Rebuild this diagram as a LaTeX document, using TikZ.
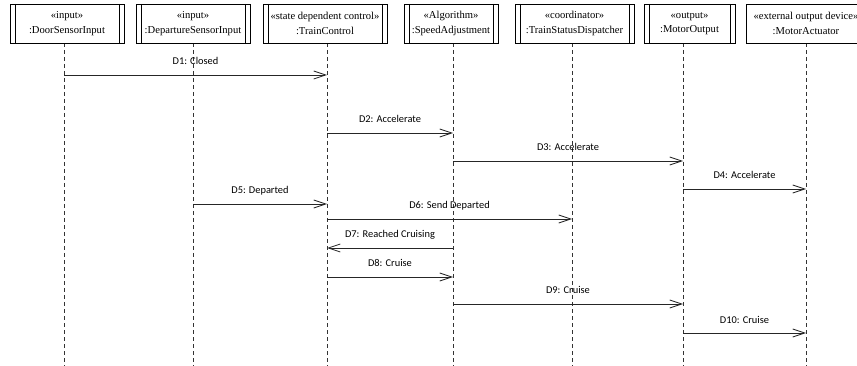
\documentclass[tikz,border=0pt]{standalone}
\usepackage{fontspec}
\setmainfont{Liberation Serif}
\newfontfamily\labelfont{Carlito}
\usetikzlibrary{arrows.meta}

\tikzset{
  objbox/.style={draw=black, line width=0.8pt, fill=white, minimum height=39pt,
    inner sep=0pt, align=center, font=\fontsize{10.6}{14.5}\selectfont},
  activebox/.style={objbox, path picture={
    \draw[line width=0.8pt]
      ([xshift=5pt]path picture bounding box.north west) --
      ([xshift=5pt]path picture bounding box.south west)
      ([xshift=-5pt]path picture bounding box.north east) --
      ([xshift=-5pt]path picture bounding box.south east);}},
  lifeline/.style={draw=black!80, line width=0.8pt, dash pattern=on 4pt off 3pt},
  msg/.style={draw=black!85, line width=0.8pt,
    -{Straight Barb[length=12pt,width=8pt,line width=0.8pt]}},
  msglabel/.style={midway, anchor=base, yshift=10pt, inner sep=0pt,
    font=\labelfont\fontsize{10.4}{12}\selectfont, text=black}
}

\begin{document}
\begin{tikzpicture}[x=1pt, y=-1pt]
  \useasboundingbox (0,0) rectangle (857,366);
  \clip (0,0) rectangle (857,366);

  % lifeline tops and bottoms
  \foreach \n/\x in {1/64, 2/193, 3/327, 4/453, 5/572, 6/683, 7/806} {
    \coordinate (t\n) at (\x,43);
    \coordinate (b\n) at (\x,366);
  }
  \foreach \n in {1,...,7} { \draw[lifeline] (t\n) -- (b\n); }

  % object boxes
  \node[activebox, minimum width=114pt] (door)  at (67,23.5)    {«input»\\:DoorSensorInput};
  \node[activebox, minimum width=114pt] (dep)   at (193,23.5)   {«input»\\:DepartureSensorInput};
  \node[activebox, minimum width=124pt] (train) at (325,23.5)   {«state dependent control»\\:TrainControl};
  \node[activebox, minimum width=94pt]  (speed) at (451,23.5)   {«Algorithm»\\:SpeedAdjustment};
  \node[activebox, minimum width=119pt] (disp)  at (574.5,23.5) {«coordinator»\\:TrainStatusDispatcher};
  \node[activebox, minimum width=91pt]  (motor) at (689.5,23.5) {«output»\\:MotorOutput};
  \node[objbox,    minimum width=120pt] (act)   at (806,23.5)   {«external output device»\\:MotorActuator};

  % messages
  \draw[msg] (t1 |- 0,75)  -- (t3 |- 0,75)  node[msglabel] {D1: Closed};
  \draw[msg] (t3 |- 0,133) -- (t4 |- 0,133) node[msglabel] {D2: Accelerate};
  \draw[msg] (t4 |- 0,161) -- (t6 |- 0,161) node[msglabel] {D3: Accelerate};
  \draw[msg] (t6 |- 0,189) -- (t7 |- 0,189) node[msglabel] {D4: Accelerate};
  \draw[msg] (t2 |- 0,204) -- (t3 |- 0,204) node[msglabel] {D5: Departed};
  \draw[msg] (t3 |- 0,219) -- (t5 |- 0,219) node[msglabel] {D6: Send Departed};
  \draw[msg] (t4 |- 0,248) -- (t3 |- 0,248) node[msglabel] {D7: Reached Cruising};
  \draw[msg] (t3 |- 0,277) -- (t4 |- 0,277) node[msglabel] {D8: Cruise};
  \draw[msg] (t4 |- 0,304) -- (t6 |- 0,304) node[msglabel] {D9: Cruise};
  \draw[msg] (t6 |- 0,333) -- (t7 |- 0,333) node[msglabel] {D10: Cruise};
\end{tikzpicture}
\end{document}
